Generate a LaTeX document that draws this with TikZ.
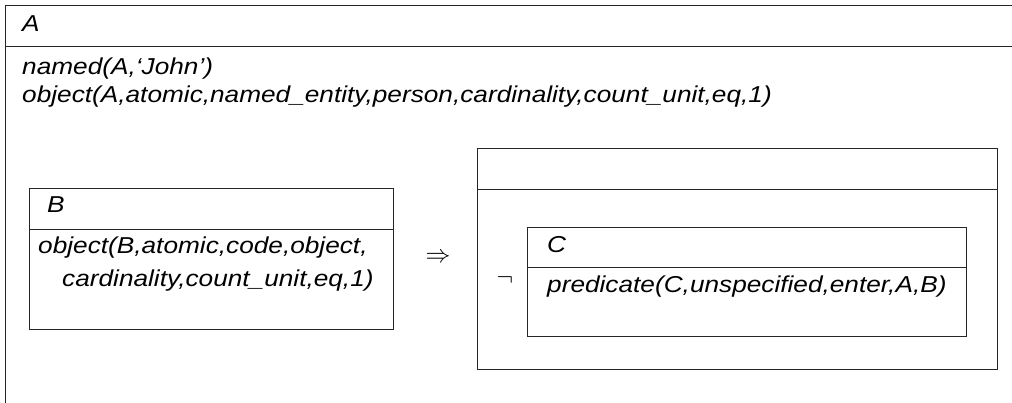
\documentclass[tikz,border=0pt]{standalone}
\usepackage{fontspec}
\setmainfont{Liberation Sans}[FakeStretch=1.14]
\begin{document}
\begin{tikzpicture}[x=1pt,y=-1pt,
  ln/.style={draw=black!85,line width=0.9pt},
  box/.style={ln,rectangle,inner sep=0pt,anchor=north west},
  txt/.style={anchor=base west,inner sep=0pt,font=\fontsize{23}{28}\selectfont\itshape},
  sym/.style={inner sep=0pt,font=\fontsize{24}{28}\selectfont},
  bigsym/.style={inner sep=0pt,font=\fontsize{28}{32}\selectfont}]
\useasboundingbox (0,0) rectangle (1012,403);
% outer DRS A (cropped)
\coordinate (aBL) at (5,403);
\coordinate (aTL) at (5,5);
\coordinate (aTR) at (1012,5);
\coordinate (aHL) at (5,46);
\coordinate (aHR) at (1012,46);
\draw[ln] (aBL) -- (aTL) -- (aTR);
\draw[ln] (aHL) -- (aHR);
\node[txt] (ta) at (22,32) {A};
\node[txt] (a1) at (22,75) {named(A,‘John’)};
\node[txt] (a2) at (22,103) {object(A,atomic,named\_entity,person,cardinality,count\_unit,eq,1)};
% box B
\node[box,minimum width=364pt,minimum height=141pt] (B) at (29,188) {};
\draw[ln] (B.north west |- 0,229) -- (B.north east |- 0,229);
\node[txt] (tb) at (47,213) {B};
\node[txt] (b1) at (38,254) {object(B,atomic,code,object,};
\node[txt] (b2) at (62,287) {cardinality,count\_unit,eq,1)};
% implication
\node[bigsym] (imp) at (438,258) {$\Rightarrow$};
% box D (empty referents)
\node[box,minimum width=520pt,minimum height=221pt] (D) at (477,148) {};
\draw[ln] (D.north west |- 0,189) -- (D.north east |- 0,189);
\node[sym] (neg) at (505,280) {$\neg$};
% box C
\node[box,minimum width=439pt,minimum height=109pt] (C) at (527,227) {};
\draw[ln] (C.north west |- 0,267) -- (C.north east |- 0,267);
\node[txt] (tc) at (547,253) {C};
\node[txt] (c1) at (547,293) {predicate(C,unspecified,enter,A,B)};
\end{tikzpicture}
\end{document}
